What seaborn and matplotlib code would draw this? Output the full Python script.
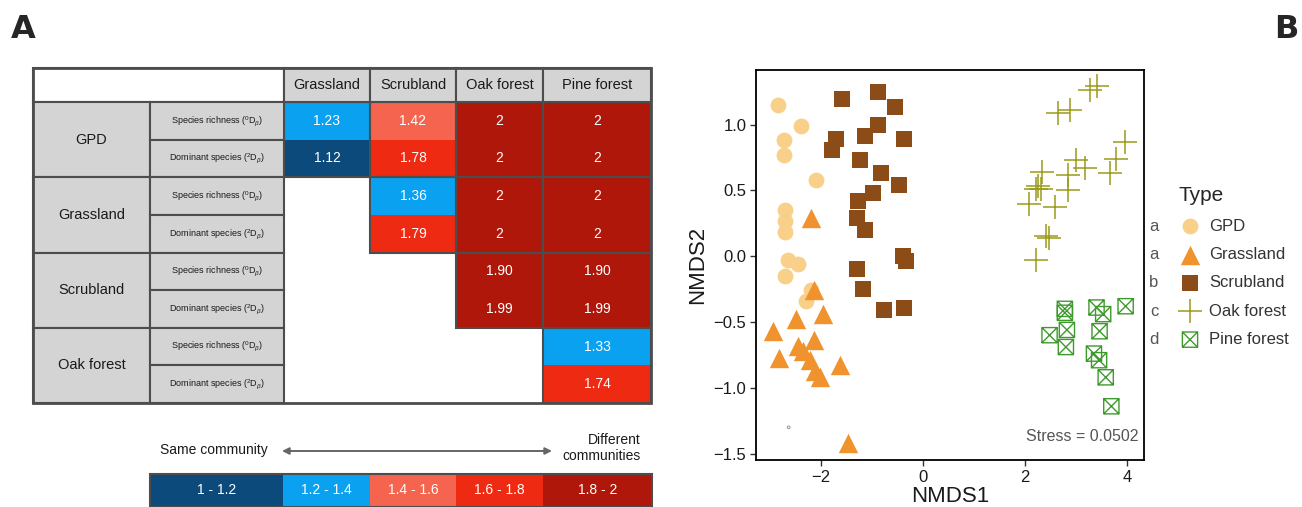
import numpy as np
import matplotlib
matplotlib.use("Agg")
import matplotlib.pyplot as plt
import seaborn as sns
from matplotlib.colors import ListedColormap, BoundaryNorm
from matplotlib.patches import Rectangle
from matplotlib.path import Path

# ---- data: pairwise beta diversity table (panel A) ----
pair_cols = ["Grassland", "Scrubland", "Oak forest", "Pine forest"]
pair_groups = ["GPD", "Grassland", "Scrubland", "Oak forest"]
metric_labels = [r"Species richness ($^{0}\mathrm{D}_{\beta}$)",
                 r"Dominant species ($^{2}\mathrm{D}_{\beta}$)"]
nan = np.nan
beta_values = [
    [1.23, 1.42, 2, 2],
    [1.12, 1.78, 2, 2],
    [nan, 1.36, 2, 2],
    [nan, 1.79, 2, 2],
    [nan, nan, 1.90, 1.90],
    [nan, nan, 1.99, 1.99],
    [nan, nan, nan, 1.33],
    [nan, nan, nan, 1.74],
]
bin_edges = [1.0, 1.2, 1.4, 1.6, 1.8, 2.0]
bin_labels = ["1 - 1.2", "1.2 - 1.4", "1.4 - 1.6", "1.6 - 1.8", "1.8 - 2"]
bin_colors = ["#0b4a7a", "#0aa2f0", "#f4644e", "#ee2a12", "#b0170b"]

# ---- data: NMDS ordination (panel B) ----
type_names = ["GPD", "Grassland", "Scrubland", "Oak forest", "Pine forest"]
type_letters = ["a", "a", "b", "c", "d"]
type_colors = ["#f8d08a", "#f0922e", "#8b4c17", "#9a9a1a", "#3f9a2e"]

gpd_x = [-2.84, -2.38, -2.73, -2.73, -2.09, -2.70, -2.70, -2.70, -2.65, -2.45, -2.70, -2.19, -2.30]
gpd_y = [1.15, 0.99, 0.88, 0.77, 0.58, 0.35, 0.27, 0.18, -0.03, -0.06, -0.15, -0.26, -0.34]
grass_x = [-2.20, -2.14, -2.48, -1.96, -2.93, -2.14, -2.45, -2.35, -2.81, -2.22, -2.12, -2.01, -1.62, -1.46]
grass_y = [0.29, -0.26, -0.48, -0.44, -0.57, -0.64, -0.68, -0.72, -0.77, -0.79, -0.87, -0.92, -0.83, -1.42]
scrub_x = [-0.88, -1.58, -0.54, -0.89, -1.70, -1.13, -0.38, -1.78, -1.24, -0.82, -0.46,
           -0.98, -1.27, -1.29, -1.14, -0.40, -0.34, -1.29, -1.18, -0.77, -0.38]
scrub_y = [1.25, 1.19, 1.13, 1.00, 0.89, 0.91, 0.89, 0.81, 0.73, 0.63, 0.54,
           0.48, 0.42, 0.29, 0.20, 0.00, -0.04, -0.10, -0.25, -0.41, -0.39]
oak_x = [3.40, 3.28, 2.88, 2.65, 3.95, 3.79, 2.99, 3.17, 3.66, 2.34,
         2.84, 2.25, 2.21, 2.32, 2.84, 2.08, 2.58, 2.41, 2.47, 2.22]
oak_y = [1.29, 1.26, 1.11, 1.09, 0.87, 0.74, 0.73, 0.67, 0.63, 0.64,
         0.62, 0.53, 0.51, 0.51, 0.50, 0.40, 0.37, 0.15, 0.14, -0.03]
pine_x = [2.78, 2.78, 3.40, 3.53, 3.97, 2.48, 2.82, 3.46, 2.80, 3.35, 3.45, 3.58, 3.69]
pine_y = [-0.40, -0.43, -0.39, -0.44, -0.38, -0.60, -0.56, -0.57, -0.69, -0.74, -0.79, -0.92, -1.14]
stray_x = [-2.63]
stray_y = [-1.30]
stress_value = 0.0502

sns.set_theme(style="ticks")
plt.rcParams["font.family"] = ["Liberation Sans", "DejaVu Sans"]
plt.rcParams["mathtext.fontset"] = "custom"
plt.rcParams["mathtext.rm"] = "Liberation Sans"
plt.rcParams["mathtext.it"] = "Liberation Sans:italic"

W, H = 1302, 507
fig = plt.figure(figsize=(W / 100, H / 100), dpi=100)

# ---------- Panel A: table drawn in pixel coordinates ----------
ax_t = fig.add_axes([0, 0, 1, 1])
ax_t.set_xlim(0, W)
ax_t.set_ylim(H, 0)
ax_t.axis("off")

edge = "#4d4d4d"
grey = "#d4d4d4"
col_edges = [33, 150, 284, 370, 456, 543, 651]
row_edges = np.linspace(102, 403, len(beta_values) + 1)
top = 68

cmap = ListedColormap(bin_colors)
norm = BoundaryNorm(bin_edges[:-1] + [2.0001], cmap.N)

vals = np.ma.masked_invalid(np.array(beta_values, dtype=float))
ax_t.pcolormesh(col_edges[2:], row_edges, vals, cmap=cmap, norm=norm)

# value labels
for i, row in enumerate(beta_values):
    for j, v in enumerate(row):
        if np.isnan(v):
            continue
        txt = "2" if v == 2 else f"{v:.2f}"
        cx = (col_edges[j + 2] + col_edges[j + 3]) / 2
        cy = (row_edges[i] + row_edges[i + 1]) / 2
        ax_t.text(cx, cy, txt, color="white", fontsize=10, ha="center", va="center")

# borders around each group/column block of coloured cells
for g in range(len(pair_groups)):
    for j in range(len(pair_cols)):
        if np.isnan(beta_values[2 * g][j]):
            continue
        x0, x1 = col_edges[j + 2], col_edges[j + 3]
        y0, y1 = row_edges[2 * g], row_edges[2 * g + 2]
        ax_t.add_patch(Rectangle((x0, y0), x1 - x0, y1 - y0, fill=False, ec=edge, lw=1.5))

# header row
ax_t.add_patch(Rectangle((col_edges[0], top), col_edges[2] - col_edges[0], row_edges[0] - top,
                         fc="white", ec=edge, lw=1.5))
for j, name in enumerate(pair_cols):
    x0, x1 = col_edges[j + 2], col_edges[j + 3]
    ax_t.add_patch(Rectangle((x0, top), x1 - x0, row_edges[0] - top, fc=grey, ec=edge, lw=1.5))
    ax_t.text((x0 + x1) / 2, (top + row_edges[0]) / 2, name, fontsize=10.5,
              ha="center", va="center", color="#1a1a1a")

# row labels
for g, name in enumerate(pair_groups):
    y0, y1 = row_edges[2 * g], row_edges[2 * g + 2]
    ax_t.add_patch(Rectangle((col_edges[0], y0), col_edges[1] - col_edges[0], y1 - y0,
                             fc=grey, ec=edge, lw=1.5))
    ax_t.text((col_edges[0] + col_edges[1]) / 2, (y0 + y1) / 2, name, fontsize=10.5,
              ha="center", va="center", color="#1a1a1a")
    for k, lab in enumerate(metric_labels):
        r0, r1 = row_edges[2 * g + k], row_edges[2 * g + k + 1]
        ax_t.add_patch(Rectangle((col_edges[1], r0), col_edges[2] - col_edges[1], r1 - r0,
                                 fc=grey, ec=edge, lw=1.5))
        ax_t.text((col_edges[1] + col_edges[2]) / 2, (r0 + r1) / 2, lab, fontsize=6.5,
                  ha="center", va="center", color="#1a1a1a")

ax_t.add_patch(Rectangle((col_edges[0], top), col_edges[-1] - col_edges[0], row_edges[-1] - top,
                         fill=False, ec=edge, lw=2))

# colour key
key_x = [150, 283, 370, 456, 543, 652]
key_y = [474, 507]
mids = [(bin_edges[k] + bin_edges[k + 1]) / 2 for k in range(len(bin_labels))]
ax_t.pcolormesh(key_x, key_y, [mids], cmap=cmap, norm=norm)
for k, lab in enumerate(bin_labels):
    ax_t.text((key_x[k] + key_x[k + 1]) / 2, 490, lab, color="white", fontsize=10,
              ha="center", va="center")
ax_t.add_patch(Rectangle((key_x[0], key_y[0]), key_x[-1] - key_x[0], key_y[1] - key_y[0],
                         fill=False, ec=edge, lw=1.5))
ax_t.text(160, 450, "Same community", fontsize=10, ha="left", va="center", color="#1a1a1a")
ax_t.text(641, 448, "Different\ncommunities", fontsize=10, ha="right", va="center",
          color="#1a1a1a", linespacing=1.2)
ax_t.annotate("", xy=(282, 451), xytext=(552, 451),
              arrowprops=dict(arrowstyle="<|-|>", color="#666666", lw=1.4,
                              mutation_scale=10, shrinkA=0, shrinkB=0))

ax_t.text(23, 29, "A", fontsize=23, fontweight="bold", family="DejaVu Sans",
          ha="center", va="center")
ax_t.text(1286, 29, "B", fontsize=23, fontweight="bold", family="DejaVu Sans",
          ha="center", va="center")

# ---------- Panel B: NMDS scatter ----------
ax = fig.add_axes([756 / W, 1 - 460 / H, (1144 - 756) / W, (460 - 70) / H])

box_x = Path([(-1, -1), (1, -1), (1, 1), (-1, 1), (-1, -1),
              (-1, -1), (1, 1), (-1, 1), (1, -1)],
             [Path.MOVETO, Path.LINETO, Path.LINETO, Path.LINETO, Path.CLOSEPOLY,
              Path.MOVETO, Path.LINETO, Path.MOVETO, Path.LINETO])

sns.scatterplot(x=gpd_x, y=gpd_y, ax=ax, marker="o", s=130, color=type_colors[0],
                linewidth=0, label=type_names[0])
sns.scatterplot(x=grass_x, y=grass_y, ax=ax, marker="^", s=195, color=type_colors[1],
                linewidth=0, label=type_names[1])
sns.scatterplot(x=scrub_x, y=scrub_y, ax=ax, marker="s", s=125, color=type_colors[2],
                linewidth=0, label=type_names[2])
sns.scatterplot(x=oak_x, y=oak_y, ax=ax, marker="+", s=290, color=type_colors[3],
                linewidth=1.1, label=type_names[3])
sns.scatterplot(x=pine_x, y=pine_y, ax=ax, marker=box_x, s=120, color=type_colors[4],
                facecolor="none", edgecolor=type_colors[4], linewidth=1.0,
                label=type_names[4])
sns.scatterplot(x=stray_x, y=stray_y, ax=ax, marker="o", s=4, color="#888888",
                facecolor="none", edgecolor="#888888", linewidth=0.6)

ax.set_xlim(-3.27, 4.33)
ax.set_ylim(-1.548, 1.414)
ax.set_xticks([-2, 0, 2, 4])
ax.set_yticks([-1.5, -1.0, -0.5, 0.0, 0.5, 1.0])
ax.set_yticklabels(["\u22121.5", "\u22121.0", "\u22120.5", "0.0", "0.5", "1.0"])
for sp in ax.spines.values():
    sp.set_visible(True)
    sp.set_color("black")
    sp.set_linewidth(1.3)
ax.tick_params(direction="out", length=4, width=1, color="#333333",
               labelsize=12, labelcolor="#1a1a1a", pad=3)
ax.set_xlabel("NMDS1", fontsize=16, labelpad=1, color="#1a1a1a")
ax.set_ylabel("NMDS2", fontsize=16, labelpad=4, color="#1a1a1a")
ax.text(0.985, 0.04, f"Stress = {stress_value:.4f}", transform=ax.transAxes,
        ha="right", va="bottom", fontsize=11.5, color="#555555")

leg = ax.legend(loc="upper left", bbox_to_anchor=(1170 / W, 1 - 178 / H),
                bbox_transform=fig.transFigure, frameon=False, title="Type",
                fontsize=12, title_fontsize=15, alignment="left", borderpad=0,
                handletextpad=0.45, labelspacing=0.8, handlelength=1.4)
for t in leg.get_texts():
    t.set_color("#333333")

fig.canvas.draw()
for t, letter in zip(leg.get_texts(), type_letters):
    bb = t.get_window_extent()
    yc = (bb.y0 + bb.y1) / 2
    fig.text(1154 / W, yc / H, letter, fontsize=12, color="#555555",
             ha="center", va="center")

fig.savefig("out.png", dpi=100)
